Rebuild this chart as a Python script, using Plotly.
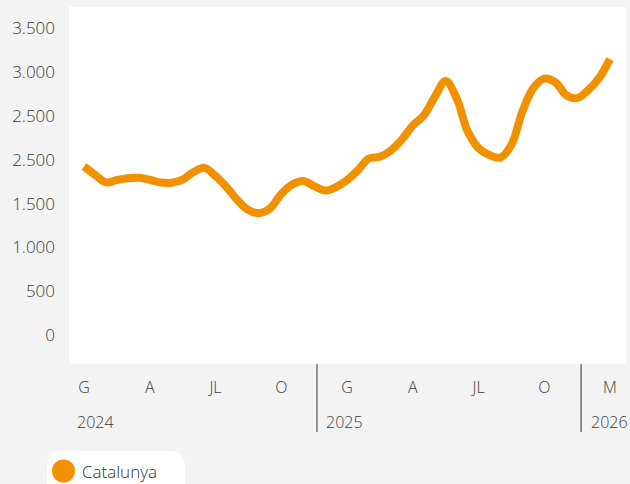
import numpy as np
import plotly.graph_objects as go

# ---- data (half-month readings, Jan 2024 -> Jan 2026) ----
values = [1923, 1829, 1742, 1769, 1789, 1795, 1772, 1740, 1738, 1774,
          1860, 1908, 1814, 1689, 1540, 1426, 1392, 1449, 1609, 1717,
          1757, 1700, 1649, 1689, 1768, 1883, 2015, 2034, 2105, 2230,
          2390, 2505, 2716, 2898, 2704, 2328, 2134, 2054, 2025, 2170,
          2550, 2818, 2927, 2887, 2738, 2704, 2795, 2932, 3149]
series_name = "Catalunya"
month_ticks = [0, 3, 6, 9, 12, 15, 18, 21, 24]
month_labels = ["G", "A", "JL", "O", "G", "A", "JL", "O", "M"]
y_ticks = [0, 500, 1000, 1500, 2000, 2500, 3000, 3500]
y_labels = ["0", "500", "1.000", "1.500", "2.500", "2.500", "3.000", "3.500"]
years = ["2024", "2025", "2026"]

x = np.arange(len(values)) * 0.5

W, H = 630, 484
L, R, T, B = 69, 4, 7, 120
PW, PH = W - L - R, H - T - B
ORANGE = "#F29100"
TXT = "#3a3a3a"
FONT = "Open Sans"

def px_x(p):
    return (p - L) / PW

def px_y(p):
    return (H - B - p) / PH

fig = go.Figure()
fig.add_trace(go.Scatter(
    x=x, y=values, mode="lines", name=series_name,
    line=dict(color=ORANGE, width=8, shape="spline", smoothing=1.0),
    showlegend=False, hoverinfo="y"))

shapes = []
# year dividers
for xv in [10.63, 22.68]:
    shapes.append(dict(type="line", xref="x", yref="paper", x0=xv, x1=xv,
                       y0=0, y1=px_y(432), line=dict(color="#333", width=1)))
# legend pill
shapes.append(dict(type="path", xref="paper", yref="paper",
                   xsizemode="pixel", ysizemode="pixel",
                   xanchor=px_x(47), yanchor=px_y(451),
                   path="M 0,-60 L 0,-16 Q 0,0 16,0 L 122,0 Q 138,0 138,-16 L 138,-60 Z",
                   fillcolor="white", line=dict(width=0), layer="above"))
shapes.append(dict(type="circle", xref="paper", yref="paper",
                   xsizemode="pixel", ysizemode="pixel",
                   xanchor=px_x(63.5), yanchor=px_y(471),
                   x0=-11.5, x1=11.5, y0=-11.5, y1=11.5,
                   fillcolor=ORANGE, line=dict(width=0), layer="above"))

annotations = [
    dict(text=series_name, xref="paper", yref="paper", x=px_x(80), y=px_y(471),
         xanchor="left", yanchor="middle", showarrow=False,
         font=dict(family=FONT, size=17, color="#2f2f2f", weight=300)),
]
for yr, xp in zip(years, [75, 324, 589]):
    annotations.append(dict(text=yr, xref="paper", yref="paper", x=px_x(xp), y=px_y(422),
                            xanchor="left", yanchor="middle", showarrow=False,
                            font=dict(family=FONT, size=16, color=TXT, weight=300)))

x0 = -15 / 21.917
x1 = (626 - 84) / 21.917
fig.update_layout(
    width=W, height=H,
    margin=dict(l=L, r=R, t=T, b=B),
    paper_bgcolor="#f3f3f3", plot_bgcolor="white",
    font=dict(family=FONT, size=16, color=TXT, weight=300),
    showlegend=False,
    xaxis=dict(range=[x0, x1], tickvals=month_ticks, ticktext=month_labels,
               showgrid=False, zeroline=False, showline=False, ticks="",
               ticklabelstandoff=12,
               tickfont=dict(family=FONT, size=16, color=TXT, weight=300)),
    yaxis=dict(range=[-331, 3744], tickvals=y_ticks, ticktext=y_labels,
               showgrid=False, zeroline=False, showline=False, ticks="",
               ticklabelstandoff=13,
               tickfont=dict(family=FONT, size=17, color=TXT, weight=300)),
    shapes=shapes, annotations=annotations,
)
fig.write_html("out.html", config={"displayModeBar": False},
               post_script="document.body.style.margin='0';document.body.style.overflow='hidden';")
